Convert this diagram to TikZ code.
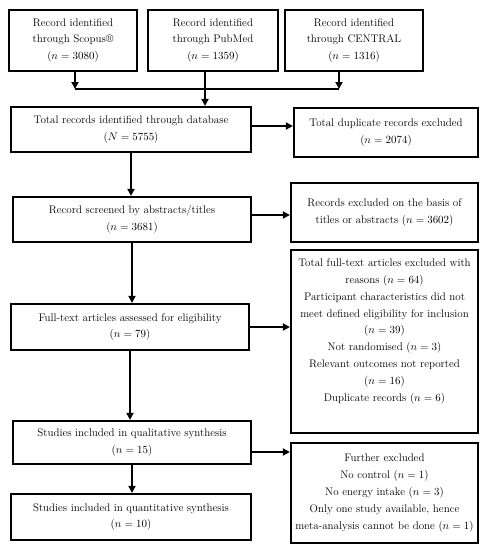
\documentclass[tikz,border=0pt]{standalone}
\usetikzlibrary{arrows.meta}
\tikzset{
  box/.style={draw, line width=2.2pt, align=center, inner sep=2pt,
    font=\fontsize{11}{16.8}\selectfont},
  flow/.style={line width=2.2pt, -{Triangle[length=7pt,width=7pt]}},
  link/.style={line width=2.2pt}
}
\begin{document}
\begin{tikzpicture}[x=1pt,y=1pt]
  \useasboundingbox (0,0) rectangle (487,-550);

  % sources
  \node[box, minimum width=128, minimum height=61] (scopus) at (73,-40.5)
    {Record identified\\through Scopus\textregistered\\($n = 3080$)};
  \node[box, minimum width=130, minimum height=61] (pubmed) at (213,-40.5)
    {Record identified\\through PubMed\\($n = 1359$)};
  \node[box, minimum width=138, minimum height=61] (central) at (354,-40.5)
    {Record identified\\through CENTRAL\\($n = 1316$)};

  % main column
  \node[box, minimum width=240, minimum height=45] (total) at (131,-129.5)
    {Total records identified through database\\($N = 5755$)};
  \node[box, minimum width=238, minimum height=45] (screened) at (132,-219.5)
    {Record screened by abstracts/titles\\($n = 3681$)};
  \node[box, minimum width=238, minimum height=46] (fulltext) at (130,-327)
    {Full-text articles assessed for eligibility\\($n = 79$)};
  \node[box, minimum width=238, minimum height=43] (qual) at (132,-442.5)
    {Studies included in qualitative synthesis\\($n = 15$)};
  \node[box, minimum width=240, minimum height=46] (quant) at (131,-517)
    {Studies included in quantitative synthesis\\($n = 10$)};

  % exclusions
  \node[box, minimum width=184, minimum height=49] (dup) at (386,-132.5)
    {Total duplicate records excluded\\($n = 2074$)};
  \node[box, minimum width=187, minimum height=59] (exclabs) at (384.5,-212.5)
    {Records excluded on the basis of\\titles or abstracts ($n = 3602$)};
  \node[box, minimum width=187, minimum height=183] (exclfull) at (384.5,-341.5)
    {Total full-text articles excluded with\\reasons ($n = 64$)\\
     Participant characteristics did not\\meet defined eligibility for inclusion\\
     ($n = 39$)\\Not randomised ($n = 3$)\\Relevant outcomes not reported\\
     ($n = 16$)\\Duplicate records ($n = 6$)\\[6pt]};
  \node[box, minimum width=187, minimum height=100] (further) at (384.5,-493)
    {Further excluded\\No control ($n = 1$)\\No energy intake ($n = 3$)\\
     Only one study available, hence\\meta-analysis cannot be done ($n = 1$)};

  % merge of sources
  \coordinate (mergeL) at (75,-89);
  \coordinate (mergeR) at (339,-89);
  \draw[flow] (scopus.south -| mergeL) -- (mergeL);
  \draw[flow] (central.south -| mergeR) -- (mergeR);
  \draw[link] (mergeL) -- (mergeR);
  \draw[flow] ([xshift=-8pt]pubmed.south) -- ([xshift=-8pt]pubmed.south |- total.north);

  % downward flow
  \draw[flow] (total.south) -- (total.south |- screened.north);
  \draw[flow] (screened.south) -- (screened.south |- fulltext.north);
  \draw[flow] (fulltext.south) -- (fulltext.south |- qual.north);
  \draw[flow] (qual.south) -- (qual.south |- quant.north);

  % exclusions
  \draw[flow] ([yshift=3.5pt]total.east) -- ([yshift=3.5pt]total.east -| dup.west);
  \draw[flow] ([yshift=4.5pt]screened.east) -- ([yshift=4.5pt]screened.east -| exclabs.west);
  \draw[flow] (fulltext.east) -- (fulltext.east -| exclfull.west);
  \draw[flow] ([yshift=-9.5pt]qual.east) -- ([yshift=-9.5pt]qual.east -| further.west);
\end{tikzpicture}
\end{document}
